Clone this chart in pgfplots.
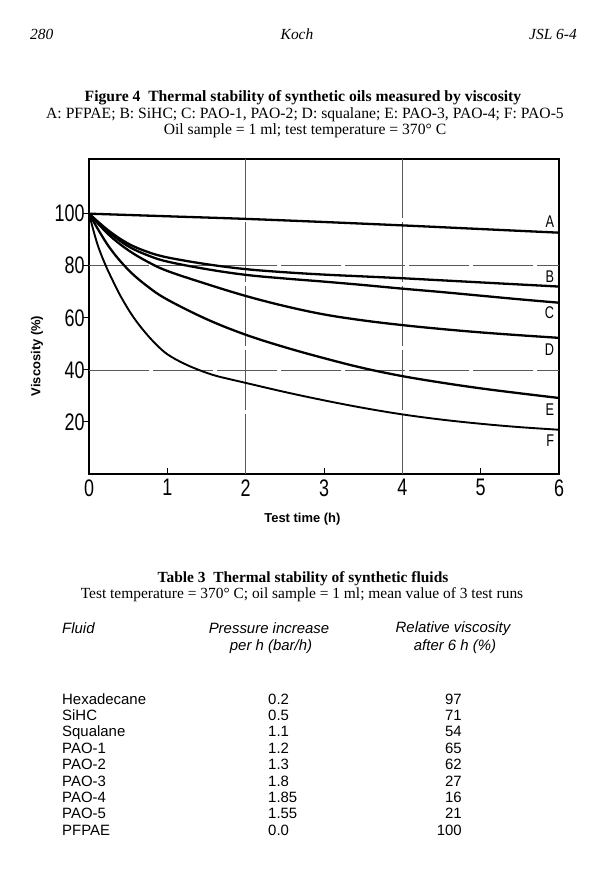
\documentclass[border=0pt]{standalone}
\usepackage{pgfplots}
\pgfplotsset{compat=1.18}
\usepackage{fontspec}
\setmainfont{Liberation Serif}
\setsansfont{Liberation Sans}
\newfontfamily\dinfont[FakeStretch=0.75]{Liberation Sans}

\pgfplotsset{curve/.style={black, line width=2.3bp, smooth, tension=0.6, mark=none}}

\begin{document}
\begin{tikzpicture}
\path[use as bounding box] (0,0) rectangle (607bp,-883bp);

% page text
\begin{scope}[x=1bp,y=-1bp]
\node[anchor=base west,inner sep=0pt,font=\itshape\fontsize{15.5}{18}\selectfont] at (30,39) {280};
\node[anchor=base,inner sep=0pt,font=\itshape\fontsize{15.5}{18}\selectfont] at (297,39) {Koch};
\node[anchor=base east,inner sep=0pt,font=\itshape\fontsize{15.5}{18}\selectfont] at (577,39) {JSL 6-4};

\node[anchor=base,inner sep=0pt,font=\bfseries\fontsize{15.7}{18}\selectfont] at (303,101)
  {Figure 4\enspace Thermal stability of synthetic oils measured by viscosity};
\node[anchor=base,inner sep=0pt,font=\fontsize{15.7}{18}\selectfont] at (305,118)
  {A: PFPAE; B: SiHC; C: PAO-1, PAO-2; D: squalane; E: PAO-3, PAO-4; F: PAO-5};
\node[anchor=base,inner sep=0pt,font=\fontsize{15.7}{18}\selectfont] at (305,134)
  {Oil sample = 1 ml; test temperature = 370° C};

\node[anchor=base,inner sep=0pt,font=\bfseries\fontsize{15.5}{18}\selectfont] at (303,582)
  {Table 3\enspace Thermal stability of synthetic fluids};
\node[anchor=base,inner sep=0pt,font=\fontsize{15.5}{18}\selectfont] at (302,598)
  {Test temperature = 370° C; oil sample = 1 ml; mean value of 3 test runs};

\begin{scope}[every node/.style={inner sep=0pt,font=\sffamily\itshape\fontsize{15}{17}\selectfont}]
\node[anchor=base west] at (62,633) {Fluid};
\node[anchor=base] at (269,633) {Pressure increase};
\node[anchor=base] at (271,650) {per h (bar/h)};
\node[anchor=base] at (453,632) {Relative viscosity};
\node[anchor=base] at (455,650) {after 6 h (\%)};
\end{scope}

\begin{scope}[every node/.style={inner sep=0pt,font=\sffamily\fontsize{15}{17}\selectfont}]
\foreach \name/\p/\v [count=\i from 0] in {Hexadecane/0.2/97, SiHC/0.5/71, Squalane/1.1/54,
  PAO-1/1.2/65, PAO-2/1.3/62, PAO-3/1.8/27, PAO-4/1.85/16, PAO-5/1.55/21, PFPAE/0.0/100}{
  \node[anchor=base west] at (62,704+16.4*\i) {\name};
  \node[anchor=base west] at (268,704+16.4*\i) {\p};
  \node[anchor=base east] at (462,704+16.4*\i) {\v};
}
\end{scope}
\end{scope}

\begin{axis}[
  at={(89bp,-474bp)}, anchor=south west,
  scale only axis, width=470bp, height=315bp,
  xmin=0, xmax=6, ymin=0, ymax=121,
  axis line style={line width=1.2bp},
  xtick={0,...,6}, ytick={20,40,60,80,100},
  xtick pos=left, ytick pos=left,
  tick align=inside, major tick length=6bp,
  ytick style={xshift=-6bp},
  tick style={line width=0.9bp, black},
  ticklabel style={font=\dinfont\fontsize{24}{24}\selectfont},
  /pgf/number format/assume math mode=true,
  xticklabel style={yshift=-2bp},
  yticklabel style={xshift=-1bp},
  extra x ticks={2,4}, extra y ticks={40,80},
  extra x tick labels={}, extra y tick labels={},
  extra tick style={grid=major, major tick length=0pt},
  major grid style={line width=0.5bp, black!65, dash pattern=on 60bp off 4bp},
  xlabel={Test time (h)}, ylabel={Viscosity (\%)},
  every axis x label/.style={at={(axis description cs:0.454,-0.1429)},anchor=center,
    font=\sffamily\bfseries\fontsize{13}{15}\selectfont},
  every axis y label/.style={at={(axis description cs:-0.1106,0.375)},rotate=90,anchor=center,
    font=\sffamily\bfseries\fontsize{13}{15}\selectfont},
  clip=false,
]
% A: PFPAE
\addplot[curve] coordinates {(0,100) (1,99) (2,98) (3,96.8) (4,95.5) (5,94.1) (6,92.7)};
% B: SiHC
\addplot[curve] coordinates {(0,100) (0.25,93.5) (0.5,88.5) (0.75,85.3) (1,83.2)
  (1.5,80.6) (2,78.7) (2.5,77.5) (3,76.6) (3.5,75.9) (4,75.2) (4.5,74.4) (5,73.6)
  (5.5,72.8) (6,72)};
% C: PAO-1, PAO-2
\addplot[curve] coordinates {(0,100) (0.25,93) (0.5,87.5) (0.75,84) (1,81.6)
  (1.5,78.7) (2,76.5) (2.5,75.1) (3,73.9) (3.5,72.6) (4,71.2) (4.5,69.9) (5,68.5)
  (5.5,67.1) (6,65.8)};
% D: squalane
\addplot[curve] coordinates {(0,100) (0.25,92) (0.5,86) (0.75,81.5) (1,78)
  (1.5,73) (2,68.4) (2.5,64.5) (3,61.3) (3.5,59) (4,57.2) (4.5,55.7) (5,54.4)
  (5.5,53.3) (6,52.3)};
% E: PAO-3, PAO-4
\addplot[curve] coordinates {(0,100) (0.25,87.5) (0.5,78.5) (0.75,72) (1,67)
  (1.5,59.5) (2,53.5) (2.5,48.7) (3,44.5) (3.5,40.7) (4,37.6) (4.5,35.1) (5,32.9)
  (5.5,31) (6,29.2)};
% F: PAO-5
\addplot[curve, line width=1.9bp] coordinates {(0,100) (0.1,89) (0.2,81) (0.3,74.5)
  (0.4,68.5) (0.55,61) (0.7,55) (0.85,50) (1,46) (1.2,42.6) (1.4,40) (1.6,37.9)
  (1.8,36.4) (2,35) (2.5,31.5) (3,28.3) (3.5,25.4) (4,22.9) (4.5,20.9) (5,19.3)
  (5.5,18) (6,17)};

\begin{scope}[every node/.style={anchor=east,inner sep=0pt,font=\dinfont\fontsize{17}{17}\selectfont}]
\node at (axis cs:5.94,96.9) {A};
\node at (axis cs:5.94,75.9) {B};
\node at (axis cs:5.94,62) {C};
\node at (axis cs:5.94,47.7) {D};
\node at (axis cs:5.94,24.9) {E};
\node at (axis cs:5.94,12.8) {F};
\end{scope}
\end{axis}
\end{tikzpicture}
\end{document}
